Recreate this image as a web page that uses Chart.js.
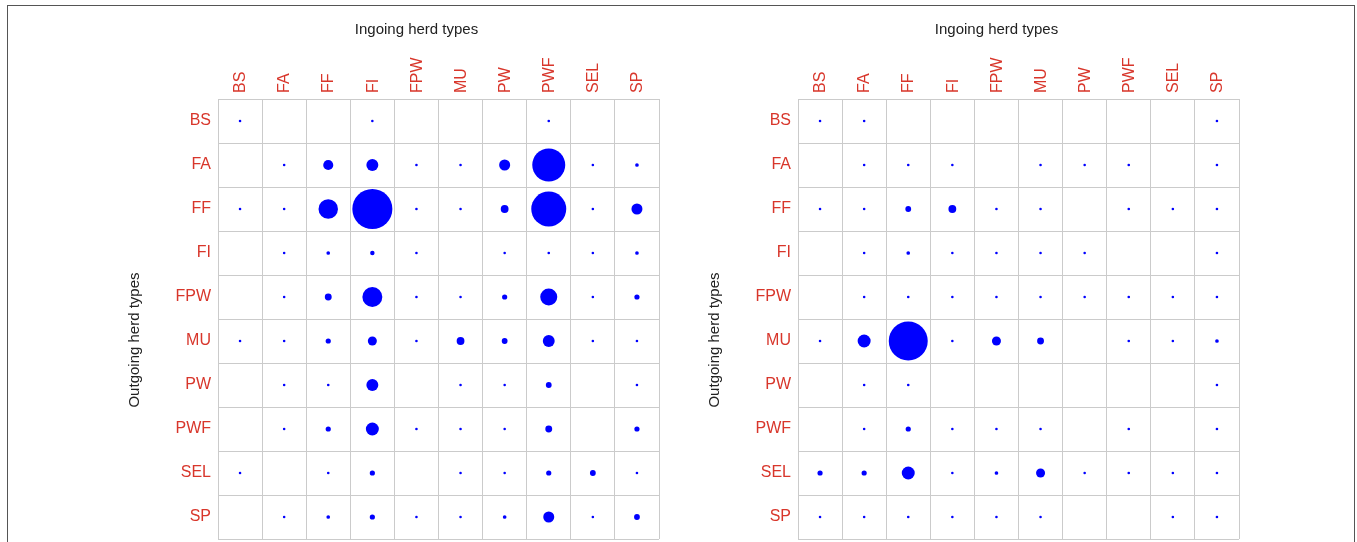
<!DOCTYPE html>
<html>
<head>
<meta charset="utf-8">
<script src="https://cdn.jsdelivr.net/npm/chart.js@4/dist/chart.umd.min.js"></script>
<style>
body{margin:0;background:#fff;width:1357px;height:542px;overflow:hidden;position:relative;font-family:"Liberation Sans",Arial,sans-serif}
#frame{position:absolute;left:7px;top:5px;width:1346px;height:600px;border:1.5px solid #555}
.panel{position:absolute;top:0;width:678px;height:542px}
</style>
</head>
<body>
<div id="frame"></div>
<div class="panel" style="left:0"><canvas id="leftChart" width="678" height="542"></canvas></div>
<div class="panel" style="left:580px"><canvas id="rightChart" width="678" height="542"></canvas></div>
<script>
// herd types, same order for rows (outgoing) and columns (ingoing)
const herdTypes = ['BS','FA','FF','FI','FPW','MU','PW','PWF','SEL','SP'];

// movement counts (rows = outgoing, cols = ingoing)
const leftValues = [
  [1,0,0,1,0,0,0,1,0,0],
  [0,1,15,21,1,1,18,161,1,2],
  [1,1,56,237,1,1,9,181,1,18],
  [0,1,2,3,1,0,1,1,1,2],
  [0,1,7,59,1,1,4,43,1,4],
  [1,1,4,12,1,9,5,21,1,1],
  [0,1,1,21,0,1,1,5,0,1],
  [0,1,4,25,1,1,1,7,0,4],
  [1,0,1,4,0,1,1,4,5,1],
  [0,1,2,4,1,1,2,18,1,5]
];
const rightValues = [
  [1,1,0,0,0,0,0,0,0,1],
  [0,1,1,1,0,1,1,1,0,1],
  [1,1,5,9,1,1,0,1,1,1],
  [0,1,2,1,1,1,1,0,0,1],
  [0,1,1,1,1,1,1,1,1,1],
  [1,25,225,1,12,7,0,1,1,2],
  [0,1,1,0,0,0,0,0,0,1],
  [0,1,4,1,1,1,0,1,0,1],
  [4,4,25,1,2,12,1,1,1,1],
  [1,1,1,1,1,1,0,0,1,1]
];

const xTitle = 'Ingoing herd types';
const yTitle = 'Outgoing herd types';

const red = '#d8362b';
const gridCol = '#cbcbcb';
const fontFam = '"Liberation Sans", Arial, sans-serif';

function toBubbles(matrix){
  const pts = [];
  matrix.forEach((row, i) => row.forEach((v, j) => {
    if (v > 0) pts.push({x: herdTypes[j], y: herdTypes[i], r: Math.sqrt(v) * 1.3});
  }));
  return pts;
}

// axis titles, centred a bit off the plot like the R output
const axisTitles = {
  id: 'axisTitles',
  afterDraw(chart) {
    const {ctx, chartArea: a} = chart;
    ctx.save();
    ctx.fillStyle = '#222';
    ctx.font = '15px ' + fontFam;
    ctx.textAlign = 'center';
    ctx.textBaseline = 'middle';
    ctx.fillText(xTitle, (a.left + a.right) / 2 - 22, 30);
    ctx.translate(135, (a.top + a.bottom) / 2 + 21);
    ctx.rotate(-Math.PI / 2);
    ctx.fillText(yTitle, 0, 0);
    ctx.restore();
  }
};

function makeChart(id, matrix){
  const ctx = document.getElementById(id).getContext('2d');
  return new Chart(ctx, {
    type: 'bubble',
    data: {
      datasets: [{
        data: toBubbles(matrix),
        backgroundColor: '#0000ff',
        borderWidth: 0,
        clip: false
      }]
    },
    plugins: [axisTitles],
    options: {
      responsive: false,
      animation: false,
      events: [],
      layout: {autoPadding: false, padding: {left: 120, top: 0, right: 19, bottom: 3}},
      plugins: {legend: {display: false}, tooltip: {enabled: false}},
      scales: {
        x: {
          type: 'category',
          labels: herdTypes,
          position: 'top',
          offset: true,
          grid: {offset: true, color: gridCol, drawTicks: false},
          border: {color: gridCol},
          ticks: {color: red, font: {family: fontFam, size: 16},
                  minRotation: 90, maxRotation: 90, padding: 6, autoSkip: false, labelOffset: 20},
          afterFit: s => { s.height = 99; s.paddingLeft = 0; s.paddingRight = 0; }
        },
        y: {
          type: 'category',
          labels: herdTypes,
          offset: true,
          grid: {offset: true, color: gridCol, drawTicks: false},
          border: {color: gridCol},
          ticks: {color: red, font: {family: fontFam, size: 16}, padding: 7, autoSkip: false},
          afterFit: s => { s.width = 98; s.paddingTop = 0; s.paddingBottom = 0; }
        }
      }
    }
  });
}

makeChart('leftChart', leftValues);
makeChart('rightChart', rightValues);
</script>
</body>
</html>
